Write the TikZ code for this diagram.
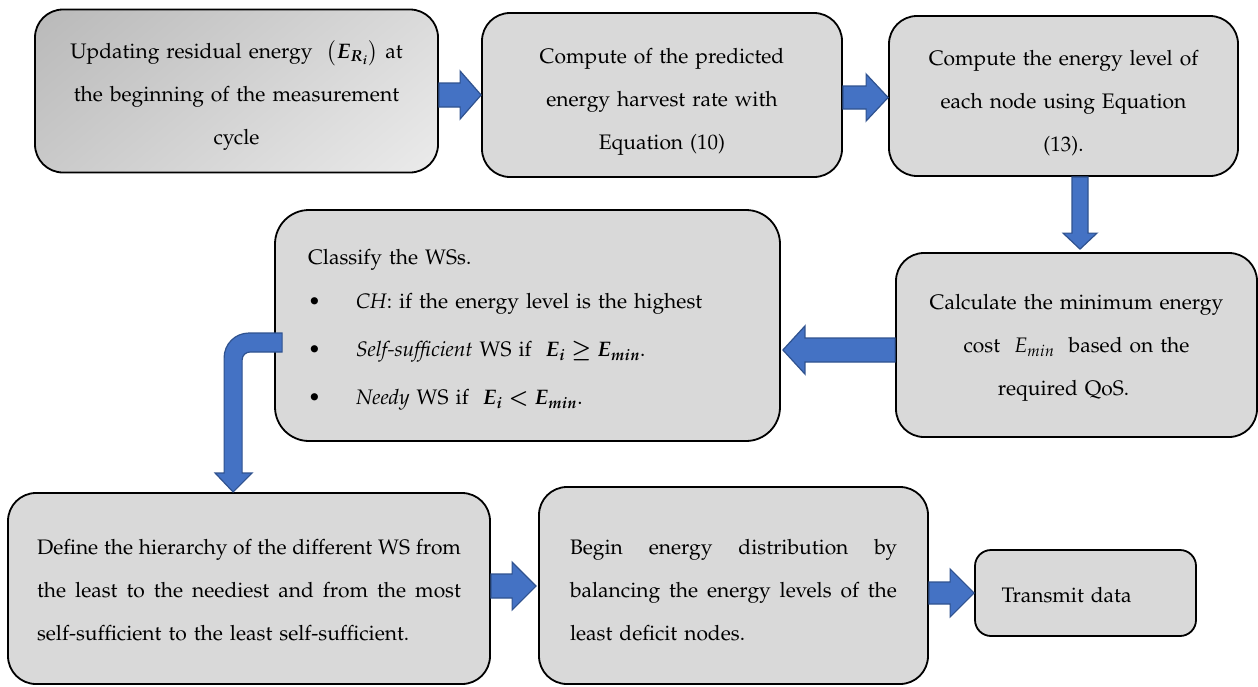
\documentclass[tikz,border=0pt]{standalone}
\usepackage[T1]{fontenc}
\usepackage{amsmath}
\usepackage[sc]{mathpazo}
\usepackage{bm}
\usetikzlibrary{calc}
\definecolor{boxgray}{HTML}{D9D9D9}
\definecolor{shdark}{HTML}{B6B6B6}
\definecolor{shlight}{HTML}{EEEEEE}
\definecolor{arrfill}{HTML}{4472C4}
\definecolor{arrline}{HTML}{2F528F}
\newcommand\blkR[5]{\draw[blockarr] let \p1=(#1), \p2=(#2) in (\x1,\y1+#3) -- (\x2-#5,\y1+#3) -- (\x2-#5,\y1+#4) -- (\x2,\y1) -- (\x2-#5,\y1-#4) -- (\x2-#5,\y1-#3) -- (\x1,\y1-#3) -- cycle;}
\newcommand\blkL[5]{\draw[blockarr] let \p1=(#1), \p2=(#2) in (\x1,\y1+#3) -- (\x2+#5,\y1+#3) -- (\x2+#5,\y1+#4) -- (\x2,\y1) -- (\x2+#5,\y1-#4) -- (\x2+#5,\y1-#3) -- (\x1,\y1-#3) -- cycle;}
\newcommand\blkD[5]{\draw[blockarr] let \p1=(#1), \p2=(#2) in (\x1-#3,\y1) -- (\x1-#3,\y2+#5) -- (\x1-#4,\y2+#5) -- (\x1,\y2) -- (\x1+#4,\y2+#5) -- (\x1+#3,\y2+#5) -- (\x1+#3,\y1) -- cycle;}
\newcommand\lift[1]{\rule{0pt}{#1pt}}
\tikzset{
  box/.style={draw=black, line width=1.8pt, rounded corners=28pt, fill=boxgray,
    inner sep=0pt, font=\fontsize{21}{43}\selectfont},
  blockarr/.style={fill=arrfill, draw=arrline, line width=1.2pt, line join=miter},
  diagshade/.style={path picture={
    \shade[top color=shdark, bottom color=shlight, shading angle=40]
      ($(path picture bounding box.center)+(-215,-215)$) rectangle +(430,430);}}
}
\begin{document}
\begin{tikzpicture}[x=1pt,y=-1pt]
\useasboundingbox (0,0) rectangle (1258,686);
% boxes
\node[box, diagshade,
  minimum width=403pt, minimum height=163pt, text width=390pt, align=center]
  (b1) at (236.5,91) {\lift{26}Updating residual energy \ $\big(\bm{E_{R_i}}\big)$\ at\\
  the beginning of the measurement\\ cycle};
\node[box, minimum width=360pt, minimum height=164pt, text width=340pt, align=center]
  (b2) at (662,95) {\lift{28.5}Compute of the predicted\\ energy harvest rate with\\ Equation (10)};
\node[box, minimum width=349pt, minimum height=160pt, text width=330pt, align=center]
  (b3) at (1063.5,96) {\lift{29.5}Compute the energy level of\\ each node using Equation\\ (13).};
\node[box, minimum width=361pt, minimum height=184pt, text width=340pt, align=center]
  (b4) at (1076.5,345) {\lift{21.5}Calculate the minimum energy\\ cost \ $E_{min}$\ \ based on the\\ required QoS.\hspace{26pt}\mbox{}};
\node[box, rounded corners=34pt, minimum width=505pt, minimum height=231pt, text width=439pt, align=left]
  (b5) at (527.5,325.5) {\lift{23.5}Classify the WSs.\\[1pt]
  \makebox[48pt][l]{\textbullet}\textit{CH}: if the energy level is the highest\\[5pt]
  \makebox[48pt][l]{\textbullet}\textit{Self-sufficient} WS if \ $\bm{E_i \geq E_{min}}$.\\[5pt]
  \makebox[48pt][l]{\textbullet}\textit{Needy} WS if \ $\bm{E_i < E_{min}}$.};
\node[box, minimum width=482pt, minimum height=191pt, text width=424pt, align=left]
  (b6) at (249,588.5) {\lift{18.5}\makebox[424pt][l]{Define\hfill the\hfill hierarchy\hfill of\hfill the\hfill different\hfill WS\hfill from}\\
  \makebox[424pt][l]{the\hfill least\hfill to\hfill the\hfill neediest\hfill and\hfill from\hfill the\hfill most}\\
  self-sufficient to the least self-sufficient.};
\node[box, minimum width=389pt, minimum height=197pt, text width=327pt, align=left]
  (b7) at (733.5,585.5) {\lift{23.5}\makebox[327pt][l]{Begin\hfill energy\hfill distribution\hfill by}\\
  \makebox[327pt][l]{balancing\hfill the\hfill energy\hfill levels\hfill of\hfill the}\\
  least deficit nodes.};
\node[box, rounded corners=16pt, minimum width=221pt, minimum height=86pt, text width=168pt, align=left]
  (b8) at (1085.5,593) {\lift{19.5}Transmit data};
% arrow end points
\coordinate (a1s) at ($(b1.east)+(0,4)$);
\coordinate (a1e) at (b2.west |- a1s);
\coordinate (a2s) at ($(b2.east)+(0,2.5)$);
\coordinate (a2e) at (b3.west |- a2s);
\coordinate (a3s) at ($(b3.south)+(16.5,0)$);
\coordinate (a3e) at ($(a3s |- b4.north)+(0,-3)$);
\coordinate (a4s) at ($(b4.west)+(0,5)$);
\coordinate (a4e) at ($(b5.east |- a4s)+(2,0)$);
\coordinate (a6s) at ($(b6.east)+(0,-2.5)$);
\coordinate (a6e) at ($(b7.west |- a6s)+(-2,0)$);
\coordinate (a7s) at ($(b7.east)+(0,7.5)$);
\coordinate (a7e) at (b8.west |- a7s);
% arrows
\blkR{a1s}{a1e}{12pt}{24pt}{21pt}
\blkR{a2s}{a2e}{11.5pt}{23.5pt}{22pt}
\blkD{a3s}{a3e}{8pt}{17pt}{16pt}
\blkL{a4s}{a4e}{12pt}{24pt}{22pt}
\blkR{a6s}{a6e}{12pt}{24pt}{24pt}
\blkR{a7s}{a7e}{11pt}{24pt}{24pt}
% bent arrow from b5 to b6
\begin{scope}[shift={(b5.west)}]
\draw[blockarr] (8,7.5) -- (-25,7.5) .. controls (-39,7.5) and (-50,18.5) .. (-50,32.5)
  -- (-50,147.5) -- (-59,147.5) -- (-41,166.5) -- (-22,147.5) -- (-32,147.5)
  -- (-32,34.5) .. controls (-32,29.5) and (-28,26.5) .. (-24,26.5) -- (8,26.5) -- cycle;
\end{scope}
\end{tikzpicture}
\end{document}
